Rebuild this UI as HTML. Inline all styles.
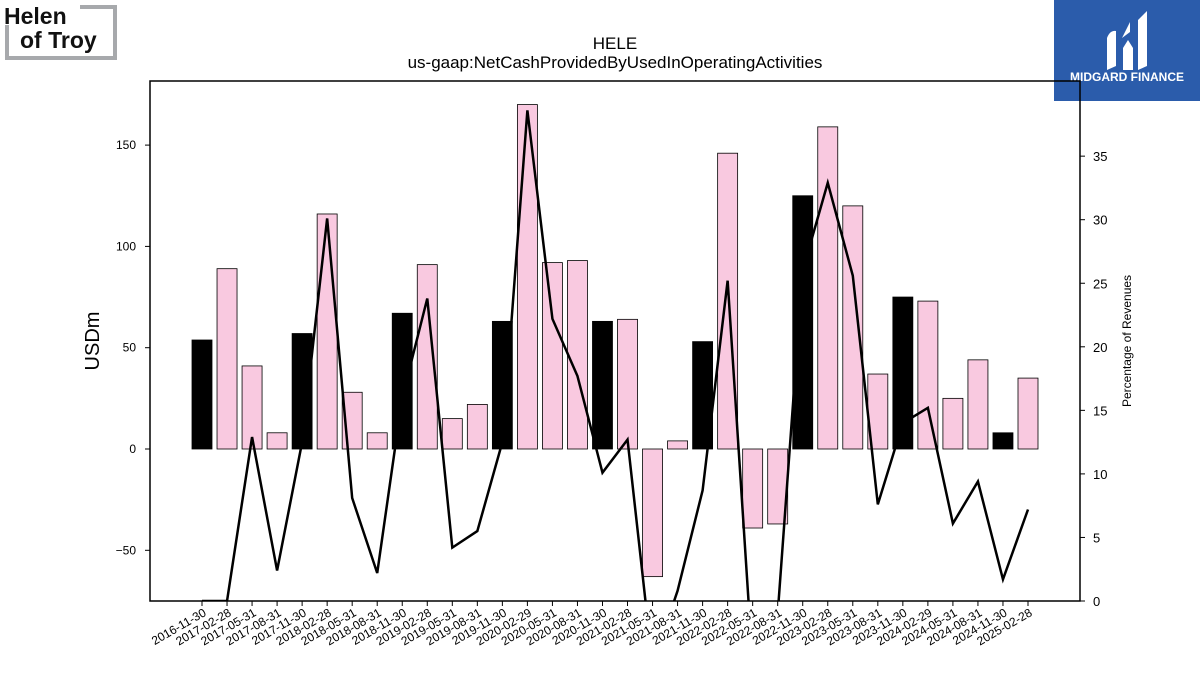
<!DOCTYPE html>
<html><head><meta charset="utf-8"><style>
body{margin:0;background:#fff;width:1200px;height:675px;overflow:hidden;font-family:"Liberation Sans","DejaVu Sans",sans-serif}
svg{display:block}
</style></head><body>
<svg id="c" width="1200" height="675" viewBox="0 0 1200 675" xmlns="http://www.w3.org/2000/svg">
<g>
<path d="M80 7 H115 V58 H7 V25" fill="none" stroke="#a7a9ac" stroke-width="4"/>
<text x="4" y="24" font-size="23" font-weight="bold" fill="#111">Helen</text>
<text x="20" y="48" font-size="23" font-weight="bold" fill="#111">of Troy</text>
</g>
<g>
<rect x="1054" y="0" width="146" height="101" fill="#2b5cab"/>
<path d="M1107 70 V38 Q1110 30 1116 31 V66 Z M1123 70 V48 L1128 40 L1133 48 V70 Z M1138 70 V20 L1147 11 V66 Z M1122 38 L1130 22 V32 Z" fill="#fff"/>
<text x="1127" y="81" font-size="12" font-weight="bold" fill="#fff" text-anchor="middle">MIDGARD FINANCE</text>
</g>
<text x="615" y="49" font-size="17" text-anchor="middle">HELE</text>
<text x="615" y="68" font-size="17" text-anchor="middle">us-gaap:NetCashProvidedByUsedInOperatingActivities</text>
<text transform="translate(99,341) rotate(-90)" font-size="20" text-anchor="middle">USDm</text>
<text transform="translate(1131,341) rotate(-90)" font-size="12" text-anchor="middle">Percentage of Revenues</text>
<g id="plot"></g>
</svg>
<script>
const dates=["2016-11-30","2017-02-28","2017-05-31","2017-08-31","2017-11-30","2018-02-28","2018-05-31","2018-08-31","2018-11-30","2019-02-28","2019-05-31","2019-08-31","2019-11-30","2020-02-29","2020-05-31","2020-08-31","2020-11-30","2021-02-28","2021-05-31","2021-08-31","2021-11-30","2022-02-28","2022-05-31","2022-08-31","2022-11-30","2023-02-28","2023-05-31","2023-08-31","2023-11-30","2024-02-29","2024-05-31","2024-08-31","2024-11-30","2025-02-28"];
const cashFlow=[53.8,89,41,8,57,116,28,8,67,91,15,22,63,170,92,93,63,64,-63,4,53,146,-39,-37,125,159,120,37,75,73,25,44,8,35];
const pctRevenue=[0,0,12.9,2.4,12.5,30.1,8.1,2.2,16,23.8,4.2,5.5,12.5,38.6,22.2,17.7,10.1,12.7,-5,0.8,8.7,25.2,-5,-1,26,32.9,25.6,7.6,14,15.2,6.1,9.4,1.7,7.2];
const leftTicks=[-50,0,50,100,150];
const rightTicks=[0,5,10,15,20,25,30,35];
const NS="http://www.w3.org/2000/svg";
const L=150,R=1080,T=81,B=601;
const yL=v=>449-v*2.026;
const yR=p=>601-p*12.71;
const xC=i=>202+i*(826/33);
const g=document.getElementById('plot');
function mk(t,a,p){const e=document.createElementNS(NS,t);for(const k in a)e.setAttribute(k,a[k]);(p||g).appendChild(e);return e;}
const clip=mk('clipPath',{id:'pc'});mk('rect',{x:L,y:T,width:R-L,height:B-T},clip);
const bars=mk('g',{'clip-path':'url(#pc)'});
cashFlow.forEach((v,i)=>{
  const y0=yL(0),y1=yL(v);
  const r=mk('rect',{x:xC(i)-10,y:Math.min(y0,y1),width:20,height:Math.abs(y1-y0),fill:i%4===0?'#000':'#f9c9e0',stroke:'#000','stroke-width':0.8},bars);
  
  
});
const line=mk('polyline',{points:pctRevenue.map((p,i)=>xC(i)+','+yR(p)).join(' '),fill:'none',stroke:'#000','stroke-width':2.5,'clip-path':'url(#pc)'});


const fr=mk('rect',{x:L,y:T,width:R-L,height:B-T,fill:'none',stroke:'#000','stroke-width':1.5});


leftTicks.forEach(v=>{
  mk('line',{x1:L-5,x2:L,y1:yL(v),y2:yL(v),stroke:'#000'});
  const t=mk('text',{x:L-14,y:yL(v)+4,'font-size':12,'text-anchor':'end'});t.textContent=v<0?'\u2212'+(-v):v;
  
  
});
rightTicks.forEach(v=>{
  mk('line',{x1:R,x2:R+5,y1:yR(v),y2:yR(v),stroke:'#000'});
  const t=mk('text',{x:R+13,y:yR(v)+5,'font-size':13});t.textContent=v;
  
  
});
dates.forEach((d,i)=>{
  const x=xC(i);
  mk('line',{x1:x,x2:x,y1:B,y2:B+5,stroke:'#000'});
  const t=mk('text',{transform:`translate(${x+5},${B+14}) rotate(-30)`,'font-size':12,'text-anchor':'end'});t.textContent=d;
  
  
});
</script>
</body></html>
